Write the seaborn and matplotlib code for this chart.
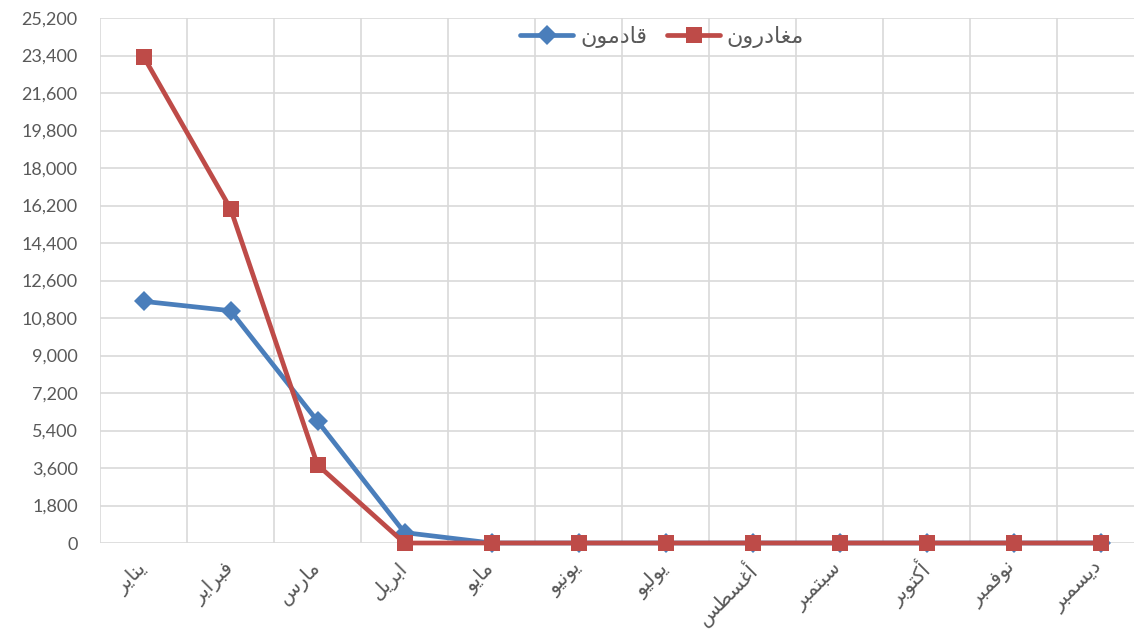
import numpy as np
import pandas as pd
import seaborn as sns
import matplotlib.pyplot as plt
from matplotlib.ticker import FuncFormatter, FixedLocator

# months (x axis)
months = ["يناير", "فبراير", "مارس", "ابريل", "مايو", "يونيو",
          "يوليو", "أغسطس", "سبتمبر", "أكتوبر", "نوفمبر", "ديسمبر"]
series_names = ["قادمون", "مغادرون"]
arrivals = [11600, 11150, 5850, 500, 0, 0, 0, 0, 0, 0, 0, 0]
departures = [23350, 16050, 3750, 0, 0, 0, 0, 0, 0, 0, 0, 0]
y_ticks = list(range(0, 25201, 1800))

# matplotlib has no arabic shaping, so map letters to their presentation forms
# (isolated, final, initial, medial) and reverse for right-to-left display
FORMS = {
    "ا": ("\uFE8D", "\uFE8E", None, None),
    "أ": ("\uFE83", "\uFE84", None, None),
    "ب": ("\uFE8F", "\uFE90", "\uFE91", "\uFE92"),
    "ت": ("\uFE95", "\uFE96", "\uFE97", "\uFE98"),
    "د": ("\uFEA9", "\uFEAA", None, None),
    "ر": ("\uFEAD", "\uFEAE", None, None),
    "س": ("\uFEB1", "\uFEB2", "\uFEB3", "\uFEB4"),
    "ط": ("\uFEC1", "\uFEC2", "\uFEC3", "\uFEC4"),
    "غ": ("\uFECD", "\uFECE", "\uFECF", "\uFED0"),
    "ف": ("\uFED1", "\uFED2", "\uFED3", "\uFED4"),
    "ق": ("\uFED5", "\uFED6", "\uFED7", "\uFED8"),
    "ك": ("\uFED9", "\uFEDA", "\uFEDB", "\uFEDC"),
    "ل": ("\uFEDD", "\uFEDE", "\uFEDF", "\uFEE0"),
    "م": ("\uFEE1", "\uFEE2", "\uFEE3", "\uFEE4"),
    "ن": ("\uFEE5", "\uFEE6", "\uFEE7", "\uFEE8"),
    "و": ("\uFEED", "\uFEEE", None, None),
    "ي": ("\uFEF1", "\uFEF2", "\uFEF3", "\uFEF4"),
}


def shape(word):
    out = []
    for i, ch in enumerate(word):
        f = FORMS.get(ch)
        if f is None:
            out.append(ch)
            continue
        prev = word[i - 1] if i > 0 else None
        nxt = word[i + 1] if i + 1 < len(word) else None
        joins_prev = prev in FORMS and FORMS[prev][2] is not None
        joins_next = f[2] is not None and nxt in FORMS
        if joins_prev and joins_next:
            out.append(f[3])
        elif joins_prev:
            out.append(f[1])
        elif joins_next:
            out.append(f[2])
        else:
            out.append(f[0])
    return "".join(out)[::-1]


df = pd.DataFrame({
    "x": list(range(len(months))) * 2,
    "value": arrivals + departures,
    "series": [series_names[0]] * len(months) + [series_names[1]] * len(months),
})

sns.set_theme(style="white")
plt.rcParams["font.family"] = ["Lato", "DejaVu Sans"]

fig = plt.figure(figsize=(11.34, 6.33), dpi=100)
ax = fig.add_axes([100 / 1134, 90 / 633, 1044 / 1134, 525 / 633])

sns.lineplot(data=df, x="x", y="value", hue="series", style="series",
             hue_order=series_names, style_order=series_names,
             palette={series_names[0]: "#4A7EBB", series_names[1]: "#BE4B48"},
             markers={series_names[0]: "D", series_names[1]: "s"},
             dashes=False, linewidth=3.4, markersize=12, markeredgewidth=0,
             ax=ax, legend=True)
for line in ax.lines:
    line.set_clip_on(False)
    if line.get_marker() == "D":
        line.set_markersize(10.5)

ax.set_xlim(-0.5, len(months) - 0.5)
ax.set_ylim(0, 25200)
ax.set_yticks(y_ticks)
ax.yaxis.set_major_formatter(FuncFormatter(lambda v, p: f"{int(v):,}"))
ax.set_xticks(range(len(months)))
ax.set_xticklabels([shape(m) for m in months], rotation=45, ha="right",
                   va="center", rotation_mode="anchor")
ax.xaxis.set_minor_locator(FixedLocator(np.arange(-0.5, len(months), 1.0)))

ax.grid(axis="y", which="major", color="#D9D9D9", linewidth=1.2)
ax.grid(axis="x", which="minor", color="#D9D9D9", linewidth=1.2)
ax.grid(axis="x", which="major", visible=False)
ax.set_axisbelow(True)
for s in ax.spines.values():
    s.set_visible(False)
ax.tick_params(axis="y", length=0, pad=16, labelsize=13, labelcolor="#595959")
ax.tick_params(axis="x", which="both", length=0, pad=16, labelsize=14.5,
               labelcolor="#595959")
ax.set_xlabel("")
ax.set_ylabel("")

handles, labels = ax.get_legend_handles_labels()
ax.legend(handles, [shape(l) for l in labels], ncol=2, frameon=False,
          loc="center", bbox_to_anchor=(662 / 1134, 1 - 37 / 633),
          bbox_transform=fig.transFigure, fontsize=16, handlelength=2.4,
          columnspacing=0.9, handletextpad=0.3, labelcolor="#595959")

fig.savefig("out.png", dpi=100)
